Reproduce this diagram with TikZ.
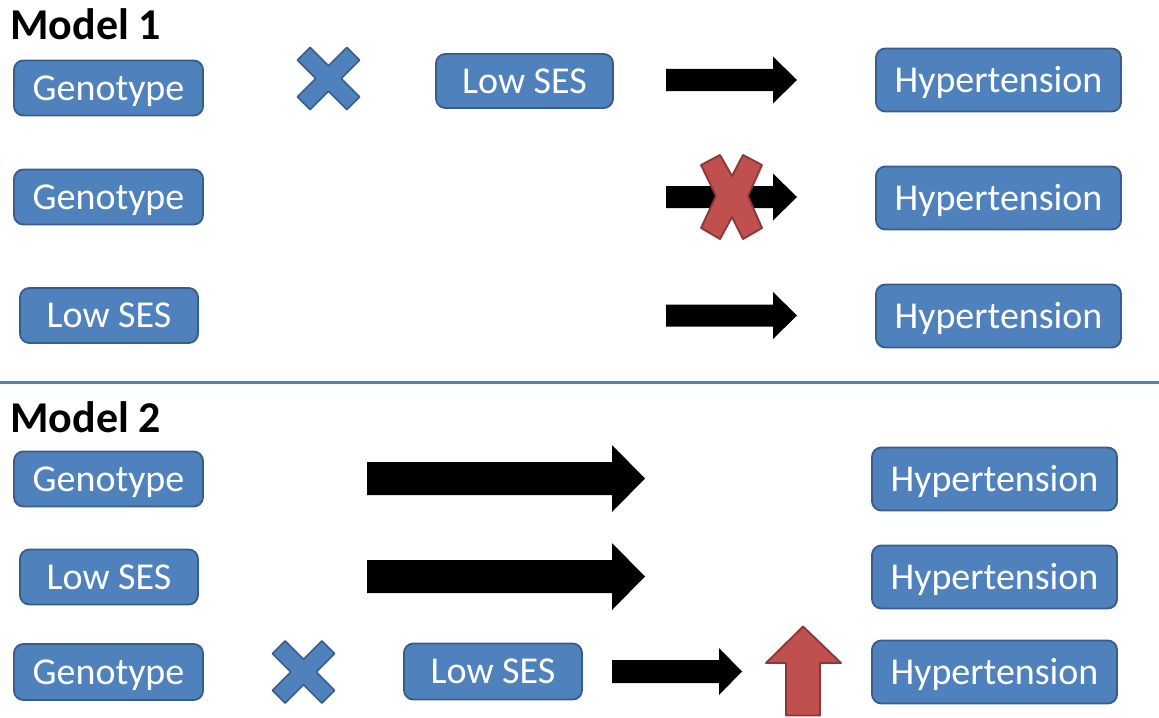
\documentclass[tikz,border=0pt]{standalone}
\usepackage{fontspec}
\setmainfont{Carlito}
\definecolor{boxblue}{HTML}{4F81BD}
\definecolor{boxedge}{HTML}{385D8A}
\definecolor{xred}{HTML}{C0504D}
\definecolor{xrededge}{HTML}{8C3836}
\tikzset{
  box/.style={draw=boxedge, fill=boxblue, line width=1.4pt, rounded corners=7pt,
    text=white, font=\fontsize{28.5}{30}\selectfont, inner sep=0pt, anchor=center,
    text height=18.4pt, text depth=0pt},
  title/.style={font=\fontsize{33}{36}\selectfont\bfseries, anchor=base west, inner sep=0pt},
  blkarrow/.style={fill=black},
  bluecross/.style={fill=boxblue, draw=boxedge, line width=1.2pt, line join=round},
  redshape/.style={fill=xred, draw=xrededge, line width=1.4pt, line join=round},
  bluecrosspic/.pic={
    \path[bluecross, rotate=45] (9,35) -- (9,9) -- (35,9) -- (35,-9) -- (9,-9) -- (9,-35)
      -- (-9,-35) -- (-9,-9) -- (-35,-9) -- (-35,9) -- (-9,9) -- (-9,35) -- cycle;
  }
}
\begin{document}
\begin{tikzpicture}[x=0.75pt, y=-0.75pt]
\useasboundingbox (0,0) rectangle (1159,717);

% titles
\node[title] (m1) at (10,40) {Model 1};
\node[title] (m2) at (10,432) {Model 2};

% divider
\draw[boxblue, line width=2.2pt] (0,382.5) -- (1159,382.5);

% Model 1 boxes
\node[box, minimum width=189*0.75pt, minimum height=55*0.75pt] (g1) at (108.5,88) {Genotype};
\node[box, minimum width=177*0.75pt, minimum height=54*0.75pt] (l1) at (524.5,81) {Low SES};
\node[box, minimum width=245*0.75pt, minimum height=63*0.75pt] (h1) at (998.5,80) {Hypertension};
\node[box, minimum width=189*0.75pt, minimum height=55*0.75pt] (g2) at (108.5,197) {Genotype};
\node[box, minimum width=245*0.75pt, minimum height=63*0.75pt] (h2) at (998.5,198) {Hypertension};
\node[box, minimum width=178*0.75pt, minimum height=55*0.75pt] (l3) at (109,315.5) {Low SES};
\node[box, minimum width=245*0.75pt, minimum height=63*0.75pt] (h3) at (998.5,316) {Hypertension};

% Model 2 boxes
\node[box, minimum width=189*0.75pt, minimum height=55*0.75pt] (g4) at (108.5,479) {Genotype};
\node[box, minimum width=245*0.75pt, minimum height=63*0.75pt] (h4) at (994.5,479) {Hypertension};
\node[box, minimum width=178*0.75pt, minimum height=55*0.75pt] (l5) at (109,577) {Low SES};
\node[box, minimum width=245*0.75pt, minimum height=63*0.75pt] (h5) at (994.5,577) {Hypertension};
\node[box, minimum width=189*0.75pt, minimum height=56*0.75pt] (g6) at (108.5,672) {Genotype};
\node[box, minimum width=178*0.75pt, minimum height=56*0.75pt] (l6) at (493,671.5) {Low SES};
\node[box, minimum width=245*0.75pt, minimum height=63*0.75pt] (h6) at (994.5,672) {Hypertension};

% blue crosses
\pic at (328.5,78.5) {bluecrosspic};
\pic at (303.5,672) {bluecrosspic};

% black block arrows (Model 1)
\foreach \c in {80,197,315.5} {
  \fill[blkarrow] (666,\c-11) -- (773,\c-11) -- (773,\c-23.5) -- (797,\c)
    -- (773,\c+23.5) -- (773,\c+11) -- (666,\c+11) -- cycle;
}
% red X over second arrow
\path[redshape] (701,165) -- (720,155) -- (732,176) -- (743,155) -- (762,165)
  -- (748,196) -- (762,228) -- (743,239) -- (732,217) -- (720,239) -- (701,228)
  -- (716,196) -- cycle;

% big arrows (Model 2)
\foreach \c in {478.5,576.5} {
  \fill[blkarrow] (367,\c-16.5) -- (612,\c-16.5) -- (612,\c-33.5) -- (645,\c)
    -- (612,\c+33.5) -- (612,\c+16.5) -- (367,\c+16.5) -- cycle;
}
% small arrow row 6
\fill[blkarrow] (612,660) -- (719,660) -- (719,648) -- (742,671.5)
  -- (719,695) -- (719,683) -- (612,683) -- cycle;

% red up arrow
\path[redshape] (803,626.5) -- (841,663) -- (820,663) -- (820,715.5) -- (786,715.5)
  -- (786,663) -- (766,663) -- cycle;
\end{tikzpicture}
\end{document}
